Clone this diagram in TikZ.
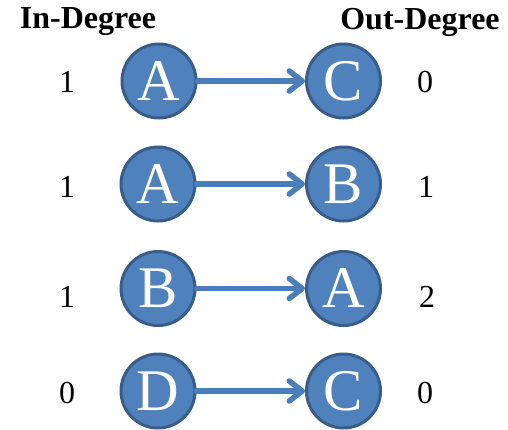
\documentclass[tikz,border=0pt]{standalone}
\usepackage{fontspec}
\setmainfont{Liberation Serif}
\usetikzlibrary{arrows.meta}
\definecolor{nodefill}{HTML}{4F81BD}
\definecolor{nodeedge}{HTML}{385D8A}
\definecolor{edgecol}{HTML}{4A7EBB}
\begin{document}
\begin{tikzpicture}[x=1pt,y=-1pt,
  vertex/.style={circle,fill=nodefill,draw=nodeedge,line width=3pt,minimum size=74pt,inner sep=0pt,
    text=white,font=\fontsize{59}{59}\selectfont},
  degree/.style={font=\fontsize{32}{32}\selectfont,inner sep=0pt},
  header/.style={font=\fontsize{32}{32}\selectfont\bfseries,inner sep=0pt},
  link/.style={draw=edgecol,line width=5.5pt,line cap=round,
    -{Straight Barb[length=13pt,width=20pt,line cap=round,line join=round]}}]
\useasboundingbox (0,0) rectangle (508,429);

\node[header] (hin) at (88,22) {In-Degree};
\node[header] (hout) at (420,22) {Out-Degree};

% row 1
\node[vertex] (a1) at (159,81) {A};
\node[vertex] (c1) at (343.5,81) {C};
\node[degree] (i1) at (67,82) {1};
\node[degree] (o1) at (425,82) {0};
\draw[link] (a1) -- (c1);

% row 2
\node[vertex] (a2) at (158,184) {A};
\node[vertex] (b2) at (343.5,184) {B};
\node[degree] (i2) at (67,187) {1};
\node[degree] (o2) at (426,187) {1};
\draw[link] (a2) -- (b2);

% row 3
\node[vertex] (b3) at (158,288.5) {B};
\node[vertex] (a3) at (343.5,288.5) {A};
\node[degree] (i3) at (67,297) {1};
\node[degree] (o3) at (427,297) {2};
\draw[link] (b3) -- (a3);

% row 4
\node[vertex] (d4) at (158,391) {D};
\node[vertex] (c4) at (343.5,391) {C};
\node[degree] (i4) at (67,393) {0};
\node[degree] (o4) at (425,393) {0};
\draw[link] (d4) -- (c4);
\end{tikzpicture}
\end{document}
